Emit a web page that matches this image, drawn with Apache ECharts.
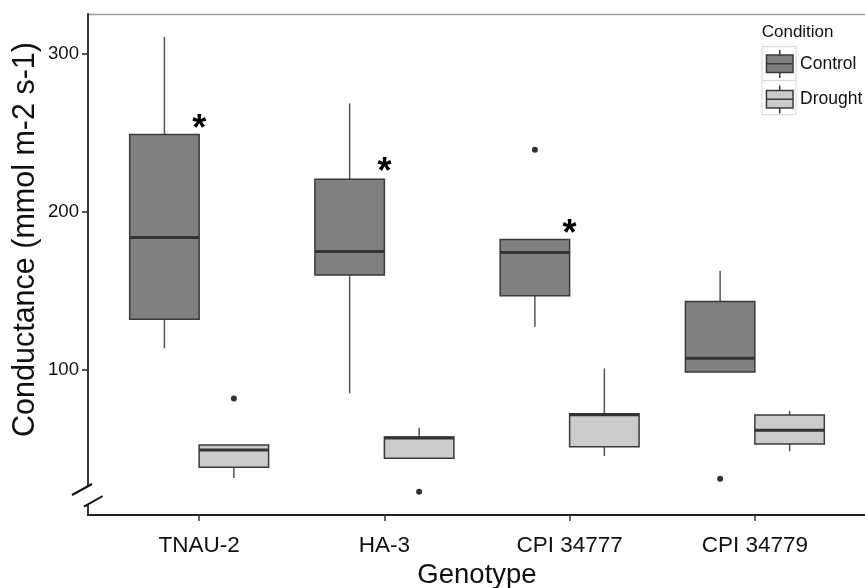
<!DOCTYPE html>
<html>
<head>
<meta charset="utf-8">
<script src="https://cdn.jsdelivr.net/npm/echarts@6/dist/echarts.min.js"></script>
<style>
html,body{margin:0;padding:0;background:#fff;}
#chart{width:865px;height:588px;}
</style>
</head>
<body>
<div id="chart"></div>
<script>
// ---- data ----
const genotypes = ['TNAU-2', 'HA-3', 'CPI 34777', 'CPI 34779'];
const conditions = ['Control', 'Drought'];
// [lower whisker, Q1, median, Q3, upper whisker]
const controlStats = [
  [113.3, 131.8, 183.5, 248.7, 310.5],
  [84.8, 159.7, 174.7, 220.4, 268.4],
  [127.0, 146.6, 174.0, 182.3, 182.3],
  [98.3, 98.3, 107.0, 143.0, 162.4]
];
const droughtStats = [
  [31.2, 38.0, 48.9, 52.1, 52.1],
  [43.7, 43.7, 56.6, 57.2, 63.0],
  [45.1, 51.0, 71.2, 71.9, 100.6],
  [48.1, 52.7, 61.4, 71.1, 73.8]
];
// [genotype index, value]
const controlOutliers = [[2, 239.0], [3, 30.8]];
const droughtOutliers = [[0, 81.6], [1, 22.5]];
// significance marks: [genotype index, value]
const asterisks = [[0, 256.5], [1, 229.3], [2, 190.0]];
const yTicks = [100, 200, 300];
const xTicks = [1, 2, 3, 4];

// ---- style ----
const FONT = 'Liberation Sans, Arial, Helvetica, sans-serif';
const fills = {Control: '#808080', Drought: '#cccccc'};
const dodge = 0.1875;
const halfBox = 0.1875;

function boxData(stats, offset) {
  return stats.map((s, i) => [i + 1 + offset, s[0], s[1], s[2], s[3], s[4]]);
}
function outlierData(list, offset) {
  return list.map(o => [o[0] + 1 + offset, o[1]]);
}

function renderBox(fill) {
  return function (params, api) {
    const x = api.value(0);
    const lo = api.coord([x, api.value(1)]);
    const q1 = api.coord([x, api.value(2)]);
    const md = api.coord([x, api.value(3)]);
    const q3 = api.coord([x, api.value(4)]);
    const hi = api.coord([x, api.value(5)]);
    const hw = api.size([halfBox, 0])[0];
    const px = lo[0];
    const whisker = {stroke: '#555555', lineWidth: 1.5};
    return {
      type: 'group',
      children: [
        {type: 'line', shape: {x1: px, y1: hi[1], x2: px, y2: q3[1]}, style: whisker},
        {type: 'line', shape: {x1: px, y1: q1[1], x2: px, y2: lo[1]}, style: whisker},
        {type: 'rect', shape: {x: px - hw, y: q3[1], width: 2 * hw, height: q1[1] - q3[1]},
          style: {fill: fill, stroke: '#3a3a3a', lineWidth: 1.5}},
        {type: 'line', shape: {x1: px - hw, y1: md[1], x2: px + hw, y2: md[1]},
          style: {stroke: '#333333', lineWidth: 3}}
      ]
    };
  };
}

const starSize = 36;
function renderStar(params, api) {
  const p = api.coord([api.value(0), api.value(1)]);
  return {
    type: 'text',
    x: p[0], y: p[1] + 0.225 * starSize,
    style: {text: '*', font: 'bold ' + starSize + 'px ' + FONT, fill: '#000',
      textAlign: 'center', textVerticalAlign: 'middle'}
  };
}

const boxIcon = 'path://M13.3,0 L13.3,5 M0,5 L26.6,5 L26.6,22.4 L0,22.4 Z M0,13.7 L26.6,13.7 M13.3,22.4 L13.3,28';

const chart = echarts.init(document.getElementById('chart'), null, {renderer: 'canvas'});
chart.setOption({
  animation: false,
  backgroundColor: '#ffffff',
  grid: {left: 88, top: 14, width: 778, height: 501, containLabel: false, outerBoundsMode: 'none'},
  xAxis: [{
    type: 'value', min: 0.4, max: 4.6,
    name: 'Genotype', nameLocation: 'middle', nameGap: 44,
    nameTextStyle: {fontFamily: FONT, fontSize: 27.5, color: '#111'},
    axisLine: {show: true, onZero: false, lineStyle: {color: '#222', width: 1.8}},
    axisTick: {show: true, customValues: xTicks, length: 6, lineStyle: {color: '#333', width: 1.5}},
    axisLabel: {show: true, customValues: xTicks, margin: 19,
      formatter: v => genotypes[Math.round(v) - 1] || '',
      fontFamily: FONT, fontSize: 22.5, color: '#111'},
    splitLine: {show: false}
  }, {
    type: 'value', min: 0.4, max: 4.6, position: 'top',
    axisLine: {show: true, onZero: false, lineStyle: {color: '#9a9a9a', width: 1.3}},
    axisTick: {show: false}, axisLabel: {show: false}, splitLine: {show: false}
  }],
  yAxis: {
    type: 'value', min: 7.8, max: 325,
    axisLine: {show: false},
    axisTick: {show: true, customValues: yTicks, length: 6, lineStyle: {color: '#222', width: 1.5}},
    axisLabel: {show: true, customValues: yTicks, margin: 9,
      fontFamily: FONT, fontSize: 18.6, color: '#111'},
    splitLine: {show: false}
  },
  legend: {
    orient: 'vertical', left: 765.7, top: 49.3, padding: 0,
    itemWidth: 26.6, itemHeight: 28, itemGap: 6,
    textStyle: {fontFamily: FONT, fontSize: 17.5, color: '#111', padding: [0, 0, 0, 2]},
    data: [
      {name: 'Control', icon: boxIcon, itemStyle: {color: fills.Control, borderColor: '#3a3a3a', borderWidth: 1.5}},
      {name: 'Drought', icon: boxIcon, itemStyle: {color: fills.Drought, borderColor: '#3a3a3a', borderWidth: 1.5}}
    ]
  },
  graphic: [
    // y axis line with break
    {type: 'line', shape: {x1: 88, y1: 13.3, x2: 88, y2: 486}, style: {stroke: '#222', lineWidth: 1.8}, z: 10},
    {type: 'line', shape: {x1: 88, y1: 504, x2: 88, y2: 515.9}, style: {stroke: '#222', lineWidth: 1.8}, z: 10},
    {type: 'line', shape: {x1: 72, y1: 495, x2: 92, y2: 484}, style: {stroke: '#111', lineWidth: 2}, z: 10},
    {type: 'line', shape: {x1: 84, y1: 506.7, x2: 102.7, y2: 496}, style: {stroke: '#111', lineWidth: 2}, z: 10},
    // y axis title
    {type: 'text', x: 25.7, y: 239.5, rotation: Math.PI / 2,
      style: {text: 'Conductance (mmol m-2 s-1)', font: '30.5px ' + FONT, fill: '#111',
        textAlign: 'center', textVerticalAlign: 'middle'}},
    // legend title and key frames
    {type: 'text', x: 761.7, y: 32.5,
      style: {text: 'Condition', font: '17px ' + FONT, fill: '#111', textAlign: 'left', textVerticalAlign: 'middle'}},
    {type: 'rect', shape: {x: 762, y: 46.7, width: 34, height: 34}, style: {fill: '#fff', stroke: '#d6d6d6', lineWidth: 1}, z: 0},
    {type: 'rect', shape: {x: 762, y: 80.7, width: 34, height: 34}, style: {fill: '#fff', stroke: '#d6d6d6', lineWidth: 1}, z: 0}
  ],
  series: [
    {name: conditions[0], type: 'custom', renderItem: renderBox(fills.Control),
      itemStyle: {color: fills.Control}, encode: {x: 0, y: [1, 2, 3, 4, 5]},
      data: boxData(controlStats, -dodge), z: 2},
    {name: conditions[1], type: 'custom', renderItem: renderBox(fills.Drought),
      itemStyle: {color: fills.Drought}, encode: {x: 0, y: [1, 2, 3, 4, 5]},
      data: boxData(droughtStats, dodge), z: 2},
    {name: conditions[0] + ' outliers', type: 'scatter', symbol: 'circle', symbolSize: 6,
      itemStyle: {color: '#000'}, data: outlierData(controlOutliers, -dodge), z: 3},
    {name: conditions[1] + ' outliers', type: 'scatter', symbol: 'circle', symbolSize: 6,
      itemStyle: {color: '#000'}, data: outlierData(droughtOutliers, dodge), z: 3},
    {name: 'significance', type: 'custom', renderItem: renderStar,
      encode: {x: 0, y: 1}, data: asterisks.map(a => [a[0] + 1, a[1]]), z: 4}
  ]
});
</script>
</body>
</html>
